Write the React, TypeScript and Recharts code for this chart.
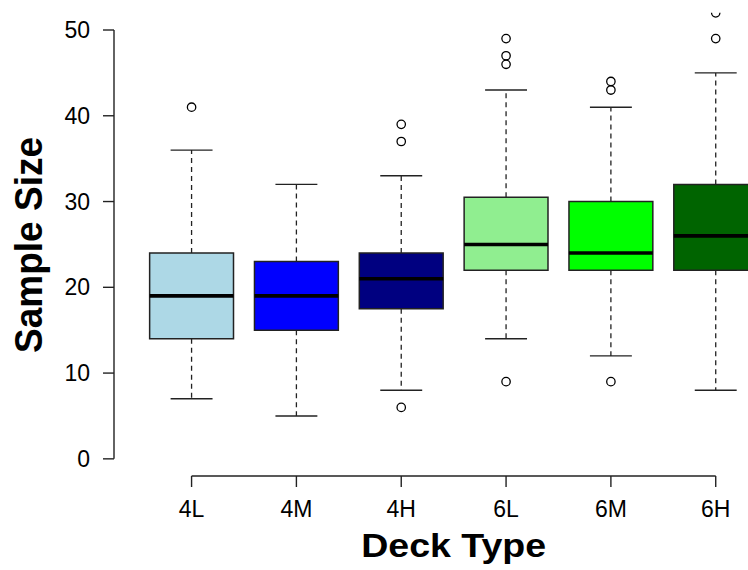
import React from 'react';
import {
  ComposedChart,
  XAxis,
  YAxis,
  Scatter,
  ReferenceArea,
  ReferenceLine,
} from 'recharts';

// ---- Data ----
const categories = ['4L', '4M', '4H', '6L', '6M', '6H'];
const whiskerLow = [7, 5, 8, 14, 12, 8];
const quartile1 = [14, 15, 17.5, 22, 22, 22];
const medians = [19, 19, 21, 25, 24, 26];
const quartile3 = [24, 23, 24, 30.5, 30, 32];
const whiskerHigh = [36, 32, 33, 43, 41, 45];
const outliers = [[41], [], [39, 37, 6], [49, 47, 46, 9], [44, 43, 9], [52, 49]];
const boxColors = ['#ADD8E6', '#0000FF', '#000080', '#90EE90', '#00FF00', '#006400'];
const yTicks = [0, 10, 20, 30, 40, 50];
const xTicks = [1, 2, 3, 4, 5, 6];

const outlierPoints = outliers.flatMap((vals, i) => vals.map((v) => ({ x: i + 1, y: v })));

const BOX_HALF = 0.4;
const CAP_HALF = 0.2;
const LINE = '#222';
const FONT = '"Liberation Sans", Arial, Helvetica, sans-serif';

const OutlierShape = (props: any) => (
  <circle cx={props.cx} cy={props.cy} r={4.2} fill="none" stroke="#000" strokeWidth={1.3} />
);

export default function App() {
  return (
    <div style={{ position: 'absolute', left: 0, top: 0, width: 748, height: 570, overflow: 'hidden', background: '#fff' }}>
      <ComposedChart
        width={800}
        height={570}
        margin={{ top: 12.85, right: 6.7, bottom: 0, left: 0 }}
      >
        <XAxis
          type="number"
          dataKey="x"
          domain={[0.26, 6.74]}
          ticks={xTicks}
          allowDataOverflow
          axisLine={false}
          tickLine={{ stroke: LINE, strokeWidth: 1.4 }}
          tickSize={11}
          tickMargin={14}
          height={94}
          interval={0}
          tickFormatter={(v: number) => categories[v - 1] ?? ''}
          tick={{ fill: '#000', fontSize: 23, fontFamily: FONT }}
          label={{
            content: () => (
              <text
                x={453.7}
                y={556.7}
                textAnchor="middle"
                fontFamily={FONT}
                fontWeight="bold"
                fontSize={33}
                fill="#000"
                textLength={185}
                lengthAdjust="spacingAndGlyphs"
              >
                Deck Type
              </text>
            ),
          }}
        />
        <YAxis
          type="number"
          dataKey="y"
          domain={[-2, 52]}
          ticks={yTicks}
          allowDataOverflow
          width={114}
          axisLine={false}
          tickLine={{ stroke: LINE, strokeWidth: 1.4 }}
          tickSize={11}
          tickMargin={13}
          interval={0}
          tick={{ fill: '#000', fontSize: 23, fontFamily: FONT }}
          label={{
            content: () => (
              <text
                x={0}
                y={0}
                transform="translate(41.5, 245) rotate(-90)"
                textAnchor="middle"
                fontFamily={FONT}
                fontWeight="bold"
                fontSize={38}
                fill="#000"
                textLength={216}
                lengthAdjust="spacingAndGlyphs"
              >
                Sample Size
              </text>
            ),
          }}
        />

        {/* R-style axis lines */}
        <ReferenceLine
          segment={[{ x: 0.26, y: yTicks[0] }, { x: 0.26, y: yTicks[yTicks.length - 1] }]}
          stroke={LINE}
          strokeWidth={1.4}
          ifOverflow="visible"
        />
        <ReferenceLine
          segment={[{ x: xTicks[0], y: -2 }, { x: xTicks[xTicks.length - 1], y: -2 }]}
          stroke={LINE}
          strokeWidth={1.4}
          ifOverflow="visible"
        />

        {/* Whiskers (dashed) */}
        {categories.map((c, i) => (
          <ReferenceLine
            key={'wu' + c}
            segment={[{ x: i + 1, y: quartile3[i] }, { x: i + 1, y: whiskerHigh[i] }]}
            stroke={LINE}
            strokeWidth={1.3}
            strokeDasharray="5 4"
            ifOverflow="visible"
          />
        ))}
        {categories.map((c, i) => (
          <ReferenceLine
            key={'wl' + c}
            segment={[{ x: i + 1, y: quartile1[i] }, { x: i + 1, y: whiskerLow[i] }]}
            stroke={LINE}
            strokeWidth={1.3}
            strokeDasharray="5 4"
            ifOverflow="visible"
          />
        ))}
        {/* Caps */}
        {categories.map((c, i) => (
          <ReferenceLine
            key={'cu' + c}
            segment={[{ x: i + 1 - CAP_HALF, y: whiskerHigh[i] }, { x: i + 1 + CAP_HALF, y: whiskerHigh[i] }]}
            stroke={LINE}
            strokeWidth={1.4}
            ifOverflow="visible"
          />
        ))}
        {categories.map((c, i) => (
          <ReferenceLine
            key={'cl' + c}
            segment={[{ x: i + 1 - CAP_HALF, y: whiskerLow[i] }, { x: i + 1 + CAP_HALF, y: whiskerLow[i] }]}
            stroke={LINE}
            strokeWidth={1.4}
            ifOverflow="visible"
          />
        ))}

        {/* Boxes */}
        {categories.map((c, i) => (
          <ReferenceArea
            key={'box' + c}
            x1={i + 1 - BOX_HALF}
            x2={i + 1 + BOX_HALF}
            y1={quartile1[i]}
            y2={quartile3[i]}
            fill={boxColors[i]}
            fillOpacity={1}
            stroke={LINE}
            strokeWidth={1.5}
            ifOverflow="visible"
          />
        ))}
        {/* Medians */}
        {categories.map((c, i) => (
          <ReferenceLine
            key={'med' + c}
            segment={[{ x: i + 1 - BOX_HALF, y: medians[i] }, { x: i + 1 + BOX_HALF, y: medians[i] }]}
            stroke="#000"
            strokeWidth={3.6}
            ifOverflow="visible"
          />
        ))}

        <Scatter
          data={outlierPoints}
          dataKey="y"
          shape={OutlierShape}
          isAnimationActive={false}
        />
      </ComposedChart>
    </div>
  );
}
